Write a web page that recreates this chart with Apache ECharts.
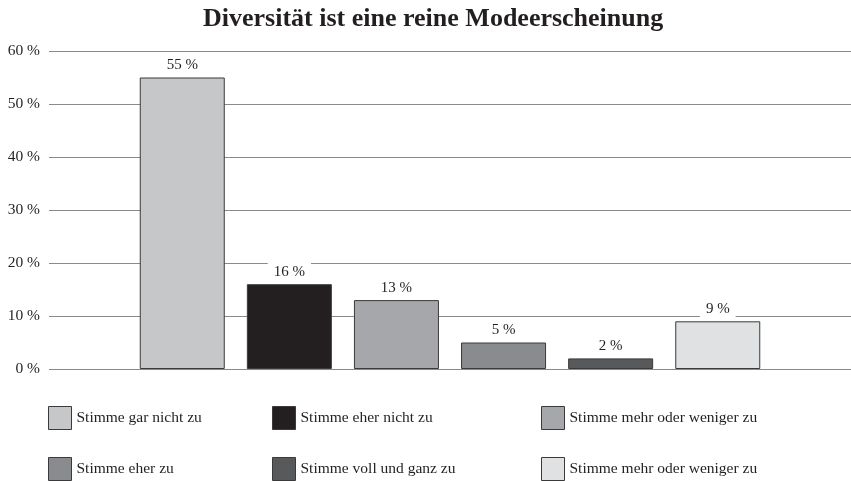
<!DOCTYPE html>
<html>
<head>
<meta charset="utf-8">
<script src="https://cdn.jsdelivr.net/npm/echarts@6/dist/echarts.min.js"></script>
<style>
  html, body { margin: 0; padding: 0; background: #fff; }
  #chart { width: 851px; height: 481px; }
</style>
</head>
<body>
<div id="chart"></div>
<script>
// answer categories (the last one appears twice in the source, so a trailing space keeps it distinct)
var answers = [
    'Stimme gar nicht zu',
    'Stimme eher nicht zu',
    'Stimme mehr oder weniger zu',
    'Stimme eher zu',
    'Stimme voll und ganz zu',
    'Stimme mehr oder weniger zu '
];
var shares = [55, 16, 13, 5, 2, 9];
var yTicks = [0, 10, 20, 30, 40, 50, 60];
var colors = ['#c6c7c9', '#231f20', '#a6a7aa', '#8a8b8e', '#58595b', '#e0e1e2'];

var font = '"Liberation Serif", "DejaVu Serif", serif';
var chart = echarts.init(document.getElementById('chart'));

var series = answers.map(function (name, i) {
    return {
        name: name,
        type: 'bar',
        barWidth: 85,
        barGap: '26%',
        data: [shares[i]],
        itemStyle: {
            color: colors[i],
            borderColor: '#3a3a3a',
            borderWidth: 1
        },
        label: {
            show: true,
            position: 'top',
            distance: 3,
            formatter: '{c} %',
            fontFamily: font,
            fontSize: 15,
            color: '#231f20',
            backgroundColor: '#ffffff',
            padding: [2, 6]
        }
    };
});

// legend laid out as a 3 x 2 grid, one legend per cell
var colX = [48, 272, 541];
var rowY = [406, 457];
var legends = answers.map(function (name, i) {
    return {
        orient: 'horizontal',
        left: colX[i % 3],
        top: rowY[Math.floor(i / 3)],
        padding: 0,
        itemWidth: 23,
        itemHeight: 23,
        itemGap: 0,
        icon: 'rect',
        data: [name],
        formatter: function (n) { return n.trim(); },
        itemStyle: { borderColor: '#3a3a3a', borderWidth: 1 },
        textStyle: { fontFamily: font, fontSize: 15.5, color: '#231f20' },
        selectedMode: false
    };
});

var option = {
    backgroundColor: '#ffffff',
    animation: false,
    title: {
        text: 'Diversität ist eine reine Modeerscheinung',
        left: 203,
        top: 6,
        padding: 0,
        textStyle: {
            fontFamily: font,
            fontWeight: 'bold',
            fontSize: 26,
            color: '#231f20'
        }
    },
    legend: legends,
    grid: {
        left: 49,
        right: 0,
        top: 51,
        bottom: 112
    },
    xAxis: {
        type: 'category',
        data: [''],
        axisLine: { show: false },
        axisTick: { show: false },
        axisLabel: { show: false }
    },
    yAxis: {
        type: 'value',
        min: yTicks[0],
        max: yTicks[yTicks.length - 1],
        interval: 10,
        axisLine: { show: false },
        axisTick: { show: false },
        axisLabel: {
            formatter: '{value} %',
            margin: 9,
            fontFamily: font,
            fontSize: 15.5,
            color: '#231f20'
        },
        splitLine: {
            lineStyle: { color: '#8a8a8a', width: 1 }
        }
    },
    series: series
};

chart.setOption(option);
</script>
</body>
</html>
